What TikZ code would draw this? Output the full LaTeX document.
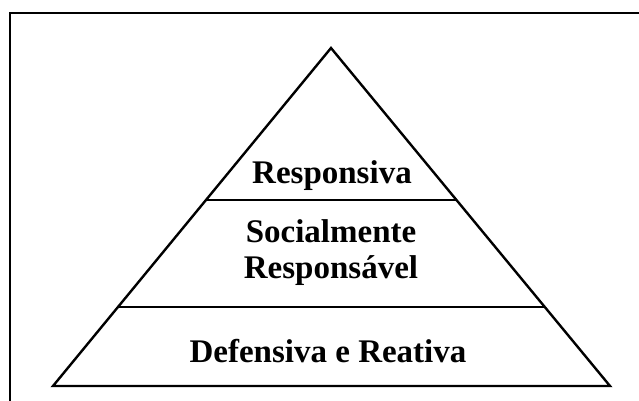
\documentclass[tikz,border=0pt]{standalone}
\usepackage{fontspec}
\setmainfont{Liberation Serif}
\usetikzlibrary{calc}

\begin{document}
\begin{tikzpicture}[x=1pt,y=-1pt,level line/.style={line width=2.4pt,line join=miter},level text/.style={font=\fontsize{33}{36}\selectfont\bfseries,inner sep=0pt,anchor=base}]

  \useasboundingbox (0,0) rectangle (639,401);
  \draw[line width=2.2pt] (10,420) -- (10,13) -- (660,13);

  \coordinate (apex) at (331,48);
  \coordinate (baseL) at (53,386);
  \coordinate (baseR) at (610,386);
  \coordinate (topL) at ($(apex)!0.4497!(baseL)$);
  \coordinate (topR) at ($(apex)!0.4497!(baseR)$);
  \coordinate (midL) at ($(apex)!0.7663!(baseL)$);
  \coordinate (midR) at ($(apex)!0.7663!(baseR)$);

  \draw[level line] (apex) -- (baseL) -- (baseR) -- cycle;
  \draw[level line] (topL) -- (topR);
  \draw[level line] (midL) -- (midR);

  \node[level text] (resp) at (332,183) {Responsiva};
  \node[level text] (soc) at (331,242) {Socialmente};
  \node[level text] (socresp) at (331,278) {Responsável};
  \node[level text] (def) at (328,362) {Defensiva e Reativa};

\end{tikzpicture}
\end{document}
